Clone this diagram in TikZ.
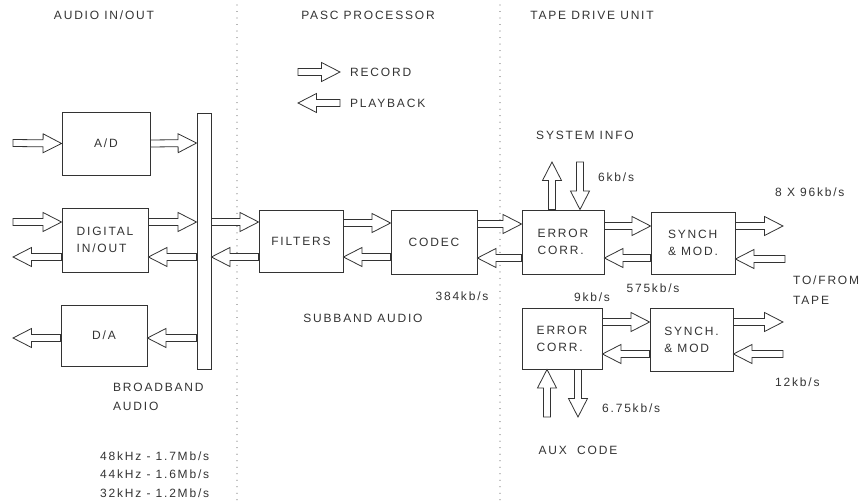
\documentclass[tikz,border=0pt]{standalone}
\usepackage{fontspec}
\setmainfont{Liberation Sans}[LetterSpace=15]
\usetikzlibrary{calc}
\definecolor{ink}{gray}{0.2}
\tikzset{
  box/.style={draw=ink, line width=0.9pt, minimum width=84pt, minimum height=63pt,
    align=left, inner sep=0pt, text=ink},
  lbl/.style={text=ink, inner sep=0pt, align=left},
  hollowarrow/.style={draw=ink, line width=0.8pt, fill=white, line join=miter},
  sepline/.style={draw=gray!70, line width=1.2pt, dash pattern=on 0.01pt off 6.5pt, line cap=round},
}
\newcommand\blkarrow[2]{%
  \coordinate (aS) at (#1);
  \coordinate (aT) at (#2);
  \coordinate (aB) at ($(aT)!18.5pt!(aS)$);
  \draw[hollowarrow] ($(aS)!3.5pt!90:(aT)$) -- ($(aB)!3.5pt!-90:(aS)$)
    -- ($(aB)!9.5pt!-90:(aS)$) -- (aT) -- ($(aB)!9.5pt!90:(aS)$)
    -- ($(aB)!3.5pt!90:(aS)$) -- ($(aS)!3.5pt!-90:(aT)$) -- cycle;}
\begin{document}
\begin{tikzpicture}[x=1pt,y=-1pt, font=\fontsize{12}{17}\selectfont]
\useasboundingbox (0,0) rectangle (868,501);
% separators
\draw[sepline] (237,5) -- (237,501);
\draw[sepline] (500,5) -- (500,501);
% titles
\node[lbl] (t1) at (104,15) {AUDIO IN/OUT};
\node[lbl] (t2) at (368,15) {PASC PROCESSOR};
\node[lbl] (t3) at (592,15) {TAPE DRIVE UNIT};
% legend
\coordinate (lr1) at (298,72); \coordinate (lr2) at (340,72);
\coordinate (lp1) at (340,103); \coordinate (lp2) at (298,103);
\blkarrow{lr1}{lr2}
\blkarrow{lp1}{lp2}
\node[lbl, anchor=west] (rec) at (350,72) {RECORD};
\node[lbl, anchor=west] (pb) at (350,103) {PLAYBACK};
% boxes
\node[box, minimum width=88pt] (ad) at (106,143.5) {A/D};
\node[box, minimum width=86pt, minimum height=64pt] (dig) at (105,240) {DIGITAL\\IN/OUT};
\node[box, minimum width=86pt, minimum height=61pt] (da) at (104,335.5) {D/A};
\node[draw=ink, line width=0.9pt, minimum width=14pt, minimum height=256pt, inner sep=0pt] (bus) at (204,241) {};
\node[box, minimum height=62pt] (filters) at (301,241) {FILTERS};
\node[box, minimum width=86pt, minimum height=64pt] (codec) at (434,242) {CODEC};
\node[box, minimum width=82pt, minimum height=64pt] (ec1) at (563,242) {ERROR\\CORR.};
\node[box, minimum height=62pt] (sm1) at (693,243) {SYNCH\\\& MOD.};
\node[box, minimum width=80pt, minimum height=61pt] (ec2) at (562,338.5) {ERROR\\CORR.};
\node[box, minimum width=83pt, minimum height=63pt] (sm2) at (691.5,339.5) {SYNCH.\\\& MOD};
% free ends
\coordinate (inad) at (13,143);
\coordinate (indig) at (13,222);
\coordinate (outdig) at (13,257);
\coordinate (outda) at (13,338);
\coordinate (tape1o) at (783,226);
\coordinate (tape1i) at (785,259);
\coordinate (tape2o) at (783,322);
\coordinate (tape2i) at (783,354);
\coordinate (sysup) at (552,162);
\coordinate (sysdn) at (580,162);
\coordinate (auxup) at (547,417);
\coordinate (auxdn) at (578,417);
% audio in/out arrows
\blkarrow{inad}{ad.west}
\blkarrow{ad.east}{bus.west |- 0,143}
\blkarrow{indig}{dig.west |- 0,222}
\blkarrow{dig.east |- 0,222}{bus.west |- 0,222}
\blkarrow{bus.west |- 0,257}{dig.east |- 0,257}
\blkarrow{dig.west |- 0,257}{outdig}
\blkarrow{bus.west |- 0,338}{da.east |- 0,338}
\blkarrow{da.west |- 0,338}{outda}
% PASC arrows
\blkarrow{bus.east |- 0,222}{filters.west |- 0,222}
\blkarrow{filters.west |- 0,257}{bus.east |- 0,257}
\blkarrow{filters.east |- 0,223}{codec.west |- 0,223}
\blkarrow{codec.west |- 0,257}{filters.east |- 0,257}
\blkarrow{codec.east |- 0,224}{ec1.west |- 0,224}
\blkarrow{ec1.west |- 0,258}{codec.east |- 0,258}
% tape drive arrows
\blkarrow{ec1.east |- 0,226}{sm1.west |- 0,226}
\blkarrow{sm1.west |- 0,258}{ec1.east |- 0,258}
\blkarrow{sm1.east |- 0,226}{tape1o}
\blkarrow{tape1i}{sm1.east |- 0,259}
\blkarrow{ec2.east |- 0,322}{sm2.west |- 0,322}
\blkarrow{sm2.west |- 0,354}{ec2.east |- 0,354}
\blkarrow{sm2.east |- 0,322}{tape2o}
\blkarrow{tape2i}{sm2.east |- 0,354}
\blkarrow{ec1.north -| 552,0}{sysup}
\blkarrow{sysdn}{ec1.north -| 580,0}
\blkarrow{auxup}{ec2.south -| 547,0}
\blkarrow{ec2.south -| 578,0}{auxdn}
% labels
\node[lbl] (sysinfo) at (585,135) {SYSTEM INFO};
\node[lbl, anchor=west] (r6) at (598,177) {6kb/s};
\node[lbl, anchor=west] (r8x) at (775,192) {8 X 96kb/s};
\node[lbl] (r575) at (653,288) {575kb/s};
\node[lbl] (r9) at (592,297) {9kb/s};
\node[lbl] (r384) at (462,296) {384kb/s};
\node[lbl] (subband) at (363,318) {SUBBAND AUDIO};
\node[lbl, anchor=west, font=\fontsize{12}{20}\selectfont] (tape) at (793,290) {TO/FROM\\TAPE};
\node[lbl, anchor=west] (r12) at (775,382) {12kb/s};
\node[lbl, anchor=west] (r675) at (602,408) {6.75kb/s};
\node[lbl] (aux) at (578,450) {AUX\ \ CODE};
\node[lbl, anchor=west, font=\fontsize{12}{19}\selectfont] (bb) at (113,397) {BROADBAND\\AUDIO};
\node[lbl, anchor=west] (f48) at (100,456) {48kHz\ -\ 1.7Mb/s};
\node[lbl, anchor=west] (f44) at (100,474) {44kHz\ -\ 1.6Mb/s};
\node[lbl, anchor=west] (f32) at (100,493) {32kHz\ -\ 1.2Mb/s};
\end{tikzpicture}
\end{document}
